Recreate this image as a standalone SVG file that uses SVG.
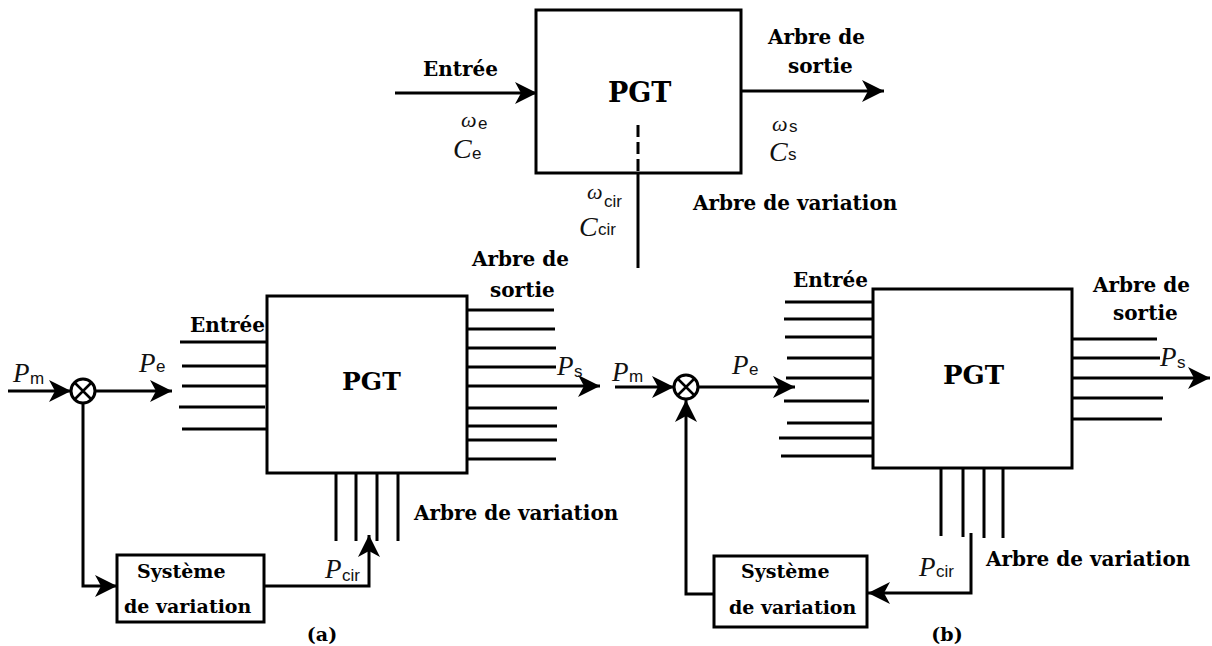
<svg xmlns="http://www.w3.org/2000/svg" width="1212" height="646" viewBox="0 0 1212 646">
<style>
.ln{stroke:#000;stroke-width:3;fill:none}
.box{stroke:#000;stroke-width:3;fill:#fff}
.ar{marker-end:url(#ah)}
.dash{stroke-dasharray:12 5}
.t{font-family:"DejaVu Serif",serif;font-weight:bold;font-size:20px;fill:#000}
.s19{font-size:19px}
.pgt{font-size:27px}
.sc{font-family:"Liberation Serif",serif;font-style:italic;fill:#111}
.sub{font-family:"Liberation Sans",Arial,sans-serif;font-size:17px;fill:#111}
</style>
<defs>
<marker id="ah" markerUnits="userSpaceOnUse" markerWidth="26" markerHeight="26" viewBox="-24 -13 26 26" refX="0" refY="0" orient="auto">
<path d="M0,0 L-22,-11 L-16,0 L-22,11 Z" fill="#000"/>
</marker>
</defs>
<rect width="1212" height="646" fill="#fff"/>

<g id="connectors">
<!-- top -->
<path class="ln ar" d="M395,93 H537"/>
<path class="ln ar" d="M741,91 H884"/>
<path class="ln" d="M638,173 V268"/>
<!-- (a) -->
<path class="ln ar" d="M8,391 H71"/>
<path class="ln ar" d="M95,391 H172"/>
<path class="ln ar" d="M83,403 V586 H117"/>
<path class="ln ar" d="M264,586 H369 V535"/>
<path class="ln" d="M180,342 H267 M182,366 H267 M182,386 H267 M179,407 H265 M182,429 H267"/>
<path class="ln" d="M467,310 H554 M467,329 H555 M467,348 H556 M467,367 H556 M467,408 H557 M467,426 H557 M467,440 H557 M467,459 H556"/>
<path class="ln ar" d="M467,386 H600"/>
<path class="ln" d="M336,473 V541 M356,473 V541 M377,473 V541 M398,473 V541"/>
<!-- (b) -->
<path class="ln ar" d="M615,387 H674"/>
<path class="ln ar" d="M699,387 H795"/>
<path class="ln ar" d="M714,594 H686 V400"/>
<path class="ln ar" d="M971,533 V593 H868"/>
<path class="ln" d="M785,302 H873 M784,319 H873 M785,337 H873 M787,358 H873 M786,378 H873 M784,401 H869 M787,423 H873 M779,438 H873 M781,456 H873"/>
<path class="ln" d="M1072,339 H1157 M1072,358 H1160 M1072,398 H1163 M1072,419 H1162"/>
<path class="ln ar" d="M1072,378 H1210"/>
<path class="ln" d="M941,468 V536 M963,468 V537 M984,468 V538 M1003,468 V538"/>
</g>

<g id="top-pgt">
<rect class="box" x="536" y="10" width="205" height="163" style="fill:none"/>
<text class="t pgt" x="608" y="102">PGT</text>
<path class="ln dash" d="M638,125 V171"/>
</g>
<g id="top-labels">
<text class="t" x="423" y="76">Entrée</text>
<text class="t" x="768" y="44">Arbre de</text>
<text class="t" x="788" y="73">sortie</text>
<text class="t" x="693" y="210">Arbre de variation</text>
<text class="sc" x="461" y="127" font-size="22">ω</text><text class="sub" x="478" y="129">e</text>
<text class="sc" x="453" y="158" font-size="28">C</text><text class="sub" x="472" y="159">e</text>
<text class="sc" x="772" y="131" font-size="22">ω</text><text class="sub" x="789" y="132">s</text>
<text class="sc" x="769" y="161" font-size="28">C</text><text class="sub" x="788" y="160">s</text>
<text class="sc" x="587" y="199" font-size="22">ω</text><text class="sub" x="604" y="207">cir</text>
<text class="sc" x="579" y="236" font-size="28">C</text><text class="sub" x="598" y="235">cir</text>
</g>

<g id="a-pgt">
<rect class="box" x="267" y="296" width="200" height="177" style="fill:none"/>
<text class="t" x="342" y="390" style="font-size:25px">PGT</text>
</g>
<g id="a-sum">
<circle cx="83" cy="391" r="12" class="box"/>
<path class="ln" d="M74.5,382.5 L91.5,399.5 M91.5,382.5 L74.5,399.5" style="stroke-width:2.5"/>
</g>
<g id="a-sys">
<rect class="box" x="117" y="555" width="147" height="67"/>
<text class="t s19" x="137" y="578">Système</text>
<text class="t s19" x="124" y="613">de variation</text>
</g>
<g id="a-labels">
<text class="t" x="190" y="332">Entrée</text>
<text class="t" x="472" y="266">Arbre de</text>
<text class="t" x="490" y="297">sortie</text>
<text class="t" x="414" y="520">Arbre de variation</text>
<text class="t s19" x="322" y="641" text-anchor="middle">(a)</text>
<text class="sc" x="13" y="382" font-size="27">P</text><text class="sub" x="30" y="384">m</text>
<text class="sc" x="139" y="372" font-size="27">P</text><text class="sub" x="156" y="372">e</text>
<text class="sc" x="557" y="375" font-size="27">P</text><text class="sub" x="574" y="377">s</text>
<text class="sc" x="325" y="578" font-size="27">P</text><text class="sub" x="342" y="581">cir</text>
</g>

<g id="b-pgt">
<rect class="box" x="873" y="289" width="199" height="179" style="fill:none"/>
<text class="t" x="943" y="384" style="font-size:26px">PGT</text>
</g>
<g id="b-sum">
<circle cx="686" cy="387" r="12" class="box"/>
<path class="ln" d="M677.5,378.5 L694.5,395.5 M694.5,378.5 L677.5,395.5" style="stroke-width:2.5"/>
</g>
<g id="b-sys">
<rect class="box" x="714" y="556" width="153" height="71"/>
<text class="t s19" x="741" y="578">Système</text>
<text class="t s19" x="729" y="614">de variation</text>
</g>
<g id="b-labels">
<text class="t" x="793" y="287">Entrée</text>
<text class="t" x="1093" y="292">Arbre de</text>
<text class="t" x="1113" y="320">sortie</text>
<text class="t" x="986" y="566">Arbre de variation</text>
<text class="t s19" x="947" y="641" text-anchor="middle">(b)</text>
<text class="sc" x="612" y="381" font-size="27">P</text><text class="sub" x="629" y="382">m</text>
<text class="sc" x="732" y="374" font-size="27">P</text><text class="sub" x="749" y="375">e</text>
<text class="sc" x="1160" y="366" font-size="27">P</text><text class="sub" x="1177" y="368">s</text>
<text class="sc" x="919" y="576" font-size="27">P</text><text class="sub" x="936" y="577">cir</text>
</g>
</svg>
